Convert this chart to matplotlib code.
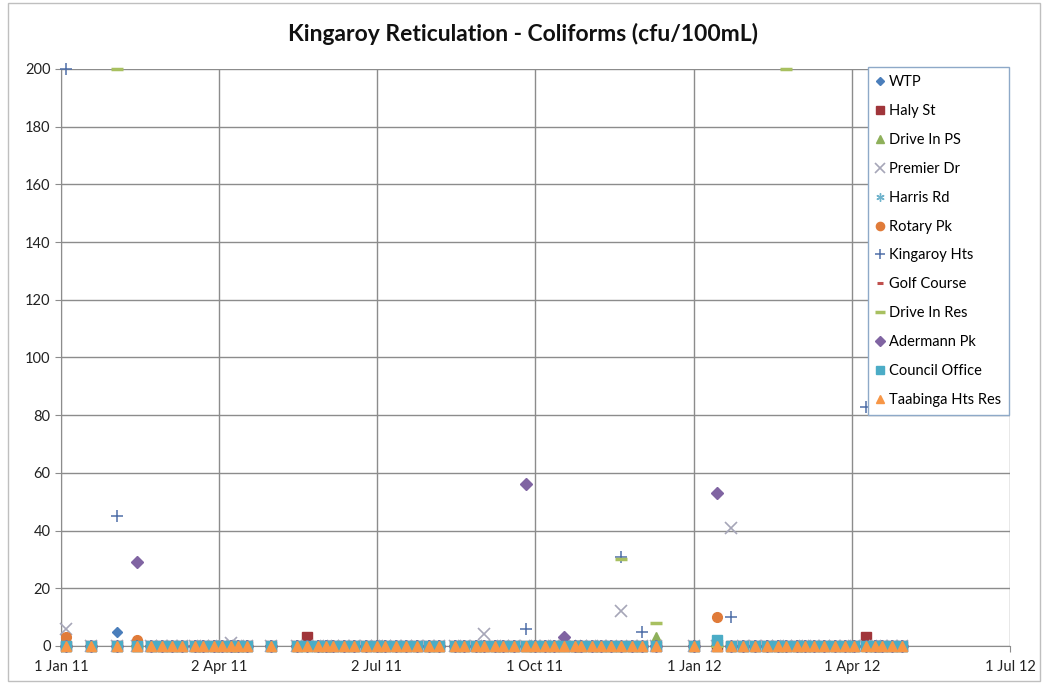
import pandas as pd
import matplotlib.pyplot as plt
from matplotlib.patches import Rectangle

# Fechas de muestreo
sample_dates = [
    "2011-01-04", "2011-01-18", "2011-02-02", "2011-02-14", "2011-02-22", "2011-02-28",
    "2011-03-06", "2011-03-12", "2011-03-19", "2011-03-24", "2011-03-30", "2011-04-04",
    "2011-04-09", "2011-04-13", "2011-04-18", "2011-05-02", "2011-05-17", "2011-05-23",
    "2011-05-29", "2011-06-03", "2011-06-07", "2011-06-13", "2011-06-19", "2011-06-26",
    "2011-07-02", "2011-07-07", "2011-07-13", "2011-07-19", "2011-07-25", "2011-08-01",
    "2011-08-07", "2011-08-16", "2011-08-21", "2011-08-28", "2011-09-02", "2011-09-08",
    "2011-09-13", "2011-09-19", "2011-09-26", "2011-10-01", "2011-10-07", "2011-10-12",
    "2011-10-18", "2011-10-24", "2011-10-28", "2011-11-03", "2011-11-08", "2011-11-14",
    "2011-11-20", "2011-11-26", "2011-12-02", "2011-12-10", "2012-01-01", "2012-01-14",
    "2012-01-22", "2012-01-29", "2012-02-05", "2012-02-12", "2012-02-18", "2012-02-23",
    "2012-02-29", "2012-03-05", "2012-03-10", "2012-03-16", "2012-03-22", "2012-03-28",
    "2012-04-02", "2012-04-09", "2012-04-14", "2012-04-18", "2012-04-24", "2012-04-30",
]

wtp = [0, 0, 5, 0, 0, 0, 0, 0, 0, 0, 0, 0,
       0, 0, 0, 0, 0, 0, 0, 0, 0, 0, 0, 0,
       0, 0, 0, 0, 0, 0, 0, 0, 0, 0, 0, 0,
       0, 0, 0, 0, 0, 0, 0, 0, 0, 0, 0, 0,
       0, 0, 0, 0, 0, 0, 0, 0, 0, 0, 0, 0,
       0, 0, 0, 0, 0, 0, 0, 0, 0, 0, 0, 0]
haly_st = [0, 0, 0, 0, 0, 0, 0, 0, 0, 0, 0, 0,
           0, 0, 0, 0, 0, 3, 0, 0, 0, 0, 0, 0,
           0, 0, 0, 0, 0, 0, 0, 0, 0, 0, 0, 0,
           0, 0, 0, 0, 0, 0, 0, 0, 0, 0, 0, 0,
           0, 0, 0, 0, 0, 0, 0, 0, 0, 0, 0, 0,
           0, 0, 0, 0, 0, 0, 0, 3, 0, 0, 0, 0]
drive_in_ps = [0, 0, 0, 0, 0, 0, 0, 0, 0, 0, 0, 0,
               0, 0, 0, 0, 0, 0, 0, 0, 0, 0, 0, 0,
               0, 0, 0, 0, 0, 0, 0, 0, 0, 0, 0, 0,
               0, 0, 0, 0, 0, 0, 0, 0, 0, 0, 0, 0,
               0, 0, 0, 3, 0, 0, 0, 0, 0, 0, 0, 0,
               0, 0, 0, 0, 0, 0, 0, 0, 0, 0, 0, 0]
premier_dr = [6, 0, 0, 0, 0, 0, 0, 0, 0, 0, 0, 0,
              1, 0, 0, 0, 0, 0, 0, 0, 0, 0, 0, 0,
              0, 0, 0, 0, 0, 0, 0, 0, 0, 0, 4, 0,
              0, 0, 0, 0, 0, 0, 0, 0, 0, 0, 0, 0,
              12, 0, 0, 0, 0, 0, 41, 0, 0, 0, 0, 0,
              0, 0, 0, 0, 0, 0, 0, 0, 0, 0, 0, 0]
harris_rd = [0, 0, 0, 0, 0, 0, 0, 0, 0, 0, 0, 0,
             0, 0, 0, 0, 0, 0, 0, 0, 0, 0, 0, 0,
             0, 0, 0, 0, 0, 0, 0, 0, 0, 0, 0, 0,
             0, 0, 0, 0, 0, 0, 0, 0, 0, 0, 0, 0,
             0, 0, 0, 0, 0, 0, 0, 0, 0, 0, 0, 0,
             0, 0, 0, 0, 0, 0, 0, 0, 0, 0, 0, 0]
rotary_pk = [3, 0, 0, 2, 0, 0, 0, 0, 0, 0, 0, 0,
             0, 0, 0, 0, 0, 0, 0, 0, 0, 0, 0, 0,
             0, 0, 0, 0, 0, 0, 0, 0, 0, 0, 0, 0,
             0, 0, 0, 0, 0, 0, 0, 0, 0, 0, 0, 0,
             0, 0, 0, 0, 0, 10, 0, 0, 0, 0, 0, 0,
             0, 0, 0, 0, 0, 0, 0, 0, 0, 0, 0, 0]
kingaroy_hts = [200, 0, 45, 0, 0, 0, 0, 0, 0, 0, 0, 0,
                0, 0, 0, 0, 0, 0, 0, 0, 0, 0, 0, 0,
                0, 0, 0, 0, 0, 0, 0, 0, 0, 0, 0, 0,
                0, 0, 6, 0, 0, 0, 0, 0, 0, 0, 0, 0,
                31, 0, 5, 0, 0, 0, 10, 0, 0, 0, 0, 0,
                0, 0, 0, 0, 0, 0, 0, 83, 0, 0, 0, 0]
golf_course = [0, 0, 0, 0, 0, 0, 0, 0, 0, 0, 0, 0,
               0, 0, 0, 0, 0, 0, 0, 0, 0, 0, 0, 0,
               0, 0, 0, 0, 0, 0, 0, 0, 0, 0, 0, 0,
               0, 0, 0, 0, 0, 0, 0, 0, 0, 0, 0, 0,
               0, 0, 0, 0, 0, 0, 0, 0, 0, 0, 0, 0,
               0, 0, 0, 0, 0, 0, 0, 0, 0, 0, 0, 0]
drive_in_res = [0, 0, 200, 0, 0, 0, 0, 0, 0, 0, 0, 0,
                0, 0, 0, 0, 0, 0, 0, 0, 0, 0, 0, 0,
                0, 0, 0, 0, 0, 0, 0, 0, 0, 0, 0, 0,
                0, 0, 0, 0, 0, 0, 0, 0, 0, 0, 0, 0,
                30, 0, 0, 8, 0, 0, 0, 0, 0, 0, 0, 200,
                0, 0, 0, 0, 0, 0, 0, 0, 0, 0, 0, 0]
adermann_pk = [0, 0, 0, 29, 0, 0, 0, 0, 0, 0, 0, 0,
               0, 0, 0, 0, 0, 0, 0, 0, 0, 0, 0, 0,
               0, 0, 0, 0, 0, 0, 0, 0, 0, 0, 0, 0,
               0, 0, 56, 0, 0, 0, 3, 0, 0, 0, 0, 0,
               0, 0, 0, 0, 0, 53, 0, 0, 0, 0, 0, 0,
               0, 0, 0, 0, 0, 0, 0, 0, 0, 0, 0, 0]
council_office = [0, 0, 0, 0, 0, 0, 0, 0, 0, 0, 0, 0,
                  0, 0, 0, 0, 0, 0, 0, 0, 0, 0, 0, 0,
                  0, 0, 0, 0, 0, 0, 0, 0, 0, 0, 0, 0,
                  0, 0, 0, 0, 0, 0, 0, 0, 0, 0, 0, 0,
                  0, 0, 0, 0, 0, 2, 0, 0, 0, 0, 0, 0,
                  0, 0, 0, 0, 0, 0, 0, 0, 0, 0, 0, 0]
taabinga_hts_res = [0, 0, 0, 0, 0, 0, 0, 0, 0, 0, 0, 0,
                    0, 0, 0, 0, 0, 0, 0, 0, 0, 0, 0, 0,
                    0, 0, 0, 0, 0, 0, 0, 0, 0, 0, 0, 0,
                    0, 0, 0, 0, 0, 0, 0, 0, 0, 0, 0, 0,
                    0, 0, 0, 0, 0, 0, 0, 0, 0, 0, 0, 0,
                    0, 0, 0, 0, 0, 0, 0, 0, 0, 0, 0, 0]

tick_dates = ["2011-01-01", "2011-04-02", "2011-07-02", "2011-10-01", "2012-01-01", "2012-04-01", "2012-07-01"]
tick_labels = ["1 Jan 11", "2 Apr 11", "2 Jul 11", "1 Oct 11", "1 Jan 12", "1 Apr 12", "1 Jul 12"]

plt.rcParams['font.family'] = ['Lato', 'DejaVu Sans']

fechas = pd.to_datetime(sample_dates)

# (nombre, valores, marcador, color, tamaño, grosor)
series = [
    ("WTP", wtp, "D", "#4A7EBB", 5, 1),
    ("Haly St", haly_st, "s", "#A0353A", 7, 1),
    ("Drive In PS", drive_in_ps, "^", "#8EB05A", 7, 1),
    ("Premier Dr", premier_dr, "x", "#A6A6B8", 8, 1.2),
    ("Harris Rd", harris_rd, (6, 2, 0), "#6FB3CC", 7, 1),
    ("Rotary Pk", rotary_pk, "o", "#E07B39", 7, 1),
    ("Kingaroy Hts", kingaroy_hts, "+", "#4F6FA8", 9, 1.1),
    ("Golf Course", golf_course, "_", "#C0504D", 5, 2.2),
    ("Drive In Res", drive_in_res, "_", "#A8C060", 9, 2.5),
    ("Adermann Pk", adermann_pk, "D", "#8064A2", 6, 1),
    ("Council Office", council_office, "s", "#4BACC6", 7, 1),
    ("Taabinga Hts Res", taabinga_hts_res, "^", "#F79646", 7, 1),
]

fig = plt.figure(figsize=(10.45, 6.84), dpi=100)
ax = fig.add_axes([0.0584, 0.0556, 0.9081, 0.8436])

for i, (nombre, valores, marcador, color, tam, grosor) in enumerate(series):
    ax.plot(fechas, valores, linestyle='none', marker=marcador, color=color,
            markersize=tam, markeredgewidth=grosor, label=nombre,
            clip_on=False, zorder=3 + i * 0.1)

ax.set_xlim(pd.Timestamp("2011-01-01"), pd.Timestamp("2012-07-01"))
ax.set_ylim(0, 200)
ax.set_yticks(range(0, 201, 20))
ax.set_xticks(pd.to_datetime(tick_dates))
ax.set_xticklabels(tick_labels)

ax.grid(True, color='#8C8C8C', linewidth=1.0)
ax.set_axisbelow(True)
for lado in ['top', 'right']:
    ax.spines[lado].set_visible(False)
ax.spines['left'].set_color('#8C8C8C')
ax.spines['bottom'].set_color('#8C8C8C')
ax.tick_params(axis='both', length=4, color='#8C8C8C', labelsize=10.5, labelcolor='#222222')
ax.tick_params(axis='x', pad=6)

fig.suptitle('Kingaroy Reticulation - Coliforms (cfu/100mL)', x=0.5, y=0.967,
             fontsize=16.5, fontweight='bold', color='#111111')

leg = ax.legend(loc='upper right', bbox_to_anchor=(0.999, 1.003), fontsize=10.5,
                labelspacing=1.02, handlelength=0.6, handletextpad=0.3,
                borderpad=0.55, fancybox=False, framealpha=1, edgecolor='#8EA9C8',
                borderaxespad=0, markerscale=0.85)
leg.set_zorder(10)
leg.get_frame().set_linewidth(1.0)

# Borde del gráfico
fig.patches.append(Rectangle((0.008, 0.004), 0.987, 0.992, transform=fig.transFigure,
                             fill=False, edgecolor='#BFBFBF', linewidth=1))

fig.savefig('out.png', dpi=100)
